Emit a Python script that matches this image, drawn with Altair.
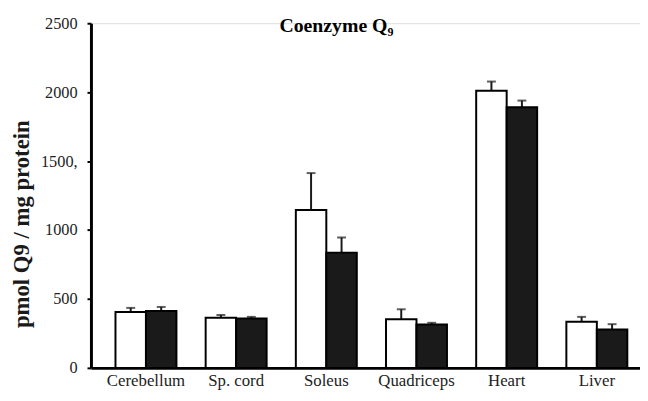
import altair as alt
import pandas as pd

tissues = ["Cerebellum", "Sp. cord", "Soleus", "Quadriceps", "Heart", "Liver"]
groups = ["Group 1", "Group 2"]
values_g1 = [406, 363, 1146, 353, 2011, 334]
errors_g1 = [29, 21, 267, 72, 66, 36]
values_g2 = [413, 358, 836, 315, 1891, 279]
errors_g2 = [29, 12, 110, 12, 48, 38]
y_ticks = [0, 500, 1000, 1500, 2000, 2500]
y_tick_labels = ["0", "500", "1000", "1500,", "2000", "2500"]

rows = []
for i, t in enumerate(tissues):
    rows.append({"tissue": t, "group": groups[0], "value": values_g1[i],
                 "top": values_g1[i] + errors_g1[i]})
    rows.append({"tissue": t, "group": groups[1], "value": values_g2[i],
                 "top": values_g2[i] + errors_g2[i]})
df = pd.DataFrame(rows)

label_map = "{" + ",".join(f"'{v}':'{l}'" for v, l in zip(y_ticks, y_tick_labels)) + "}"

FONT = "Liberation Serif"

x_scale = alt.Scale(paddingInner=0.324, paddingOuter=0.272, range=[0, 568])
x_axis = alt.Axis(title=None, labelAngle=0, ticks=False,
                  labelAlign="center", labelBaseline="top",
                  labelFont=FONT, labelFontSize=17, labelColor="#222",
                  labelPadding=5, domainColor="black", domainWidth=3)
y_scale = alt.Scale(domain=[0, 2500], nice=False)
y_axis = alt.Axis(title="pmol Q9 / mg protein", values=y_ticks,
                  labelExpr=f"{label_map}[datum.value]",
                  grid=False, labelFont=FONT, labelFontSize=16.5,
                  labelColor="#222", labelPadding=10,
                  tickSize=4, tickWidth=2, tickColor="black",
                  domainColor="black", domainWidth=3,
                  titleFont=FONT, titleFontSize=23, titleFontWeight="bold",
                  titleColor="#1a1a1a", titlePadding=7,
                  titleY=203, titleAlign="center")

xoff = alt.XOffset("group:N", sort=groups, scale=alt.Scale(paddingInner=0, paddingOuter=0))

bars = alt.Chart(df).mark_bar(stroke="black", strokeWidth=2).encode(
    x=alt.X("tissue:N", sort=tissues, scale=x_scale, axis=x_axis),
    xOffset=xoff,
    y=alt.Y("value:Q", scale=y_scale, axis=y_axis),
    fill=alt.Fill("group:N", scale=alt.Scale(domain=groups, range=["white", "#1a1a1a"]),
                  legend=None),
)

stems = alt.Chart(df).mark_rule(color="#1a1a1a", strokeWidth=2).encode(
    x=alt.X("tissue:N", sort=tissues, scale=x_scale, axis=x_axis),
    xOffset=xoff,
    y=alt.Y("value:Q", scale=y_scale, axis=y_axis),
    y2="top:Q",
)

caps = alt.Chart(df).mark_tick(color="#1a1a1a", thickness=2, size=9, orient="horizontal").encode(
    x=alt.X("tissue:N", sort=tissues, scale=x_scale, axis=x_axis),
    xOffset=xoff,
    y=alt.Y("top:Q", scale=y_scale, axis=y_axis),
)

chart = alt.layer(stems, caps, bars).properties(
    width=556, height=349,
    title=alt.TitleParams("Coenzyme Q₉", font=FONT, fontSize=20, fontWeight="bold",
                          color="black", anchor="start", dx=272, dy=21, offset=0),
    padding={"left": 84, "top": 13, "right": 0, "bottom": 22},
    autosize=alt.AutoSizeParams(type="none"),
).configure_view(stroke="transparent", strokeWidth=0).configure(background="white")

chart.save("out.html", embed_options={"renderer": "svg", "actions": False})
